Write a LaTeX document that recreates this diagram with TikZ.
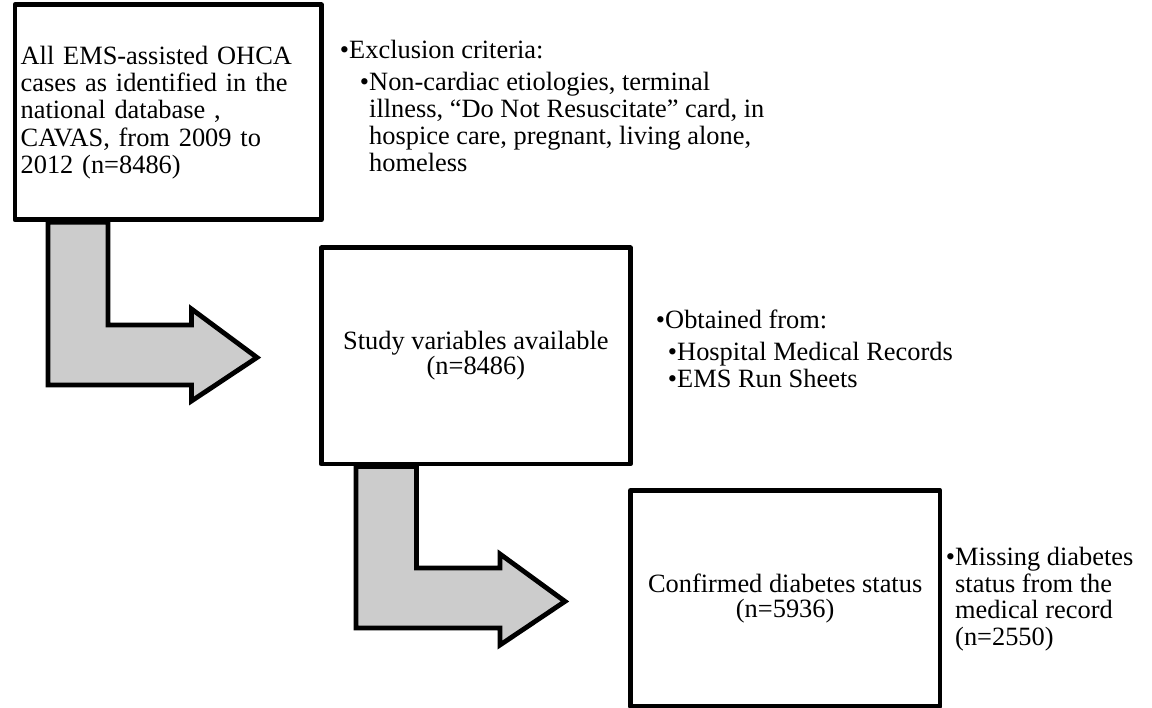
\documentclass[tikz,border=0pt]{standalone}
\usepackage{fontspec}
\setmainfont{Liberation Serif}
\usetikzlibrary{backgrounds,calc}
\begin{document}
\begin{tikzpicture}[x=1pt,y=-1pt,
  boxstyle/.style={draw=black, line width=4.8pt, fill=white, inner sep=0pt, line join=round},
  blockarrow/.style={draw=black, line width=4.8pt, fill=gray!40, line join=miter},
  txt/.style={font=\fontsize{26.4}{27.3}\selectfont, inner sep=0pt},
  boxtxt/.style={font=\fontsize{26.4}{25}\selectfont},
]
\useasboundingbox (0,0) rectangle (1152,708);

% boxes
\node[boxstyle, txt, text width=295pt, align=left, inner xsep=5.5pt,
      minimum width=306.5pt, minimum height=215pt, anchor=north west] (b1) at (12.5,2.5)
  {All EMS-assisted OHCA\\cases as identified in the\\national database ,\\CAVAS, from 2009 to\\2012 (n=8486)};
\node[boxstyle, boxtxt, align=center, minimum width=309pt, minimum height=216.2pt,
      anchor=north west] (b2) at (319,245.5)
  {Study variables available\\(n=8486)};
\node[boxstyle, boxtxt, align=center, minimum width=309.5pt, minimum height=216pt,
      anchor=north west] (b3) at (628,488)
  {Confirmed diabetes status\\(n=5936)};

% block arrows
\begin{scope}[on background layer]
\draw[blockarrow] ($(b1.south west)+(35.5,0)$) -- (48,385) -- (191.5,385) -- (191.5,401)
  -- ($(b2.west)+(-62,1.5)$) -- (191.5,309) -- (191.5,325) -- (108,325)
  -- ($(b1.south west)+(95.5,0)$) -- cycle;
\draw[blockarrow] ($(b2.south west)+(37,0)$) -- (356,628) -- (500,628) -- (500,645)
  -- ($(b3.west)+(-63,3)$) -- (500,554) -- (500,568) -- (416.5,568)
  -- ($(b2.south west)+(97.5,0)$) -- cycle;
\end{scope}

% side notes (anchored at the baseline of their last line)
\node[txt, align=left, anchor=base west] (ex) at (349,172)
  {\llap{•}Exclusion criteria:\\[4.7pt]
   \hspace{20pt}\llap{•}Non-cardiac etiologies, terminal\\
   \hspace{20pt}illness, “Do Not Resuscitate” card, in\\
   \hspace{20pt}hospice care, pregnant, living alone,\\
   \hspace{20pt}homeless};
\node[txt, align=left, anchor=base west] (ob) at (665,388)
  {\llap{•}Obtained from:\\[4.7pt]
   \hspace{12pt}\llap{•}Hospital Medical Records\\
   \hspace{12pt}\llap{•}EMS Run Sheets};
\node[txt, font=\fontsize{26.4}{26.5}\selectfont, align=left, anchor=base west] (mi) at (955,645)
  {\llap{•}Missing diabetes\\status from the\\medical record\\(n=2550)};
\end{tikzpicture}
\end{document}
